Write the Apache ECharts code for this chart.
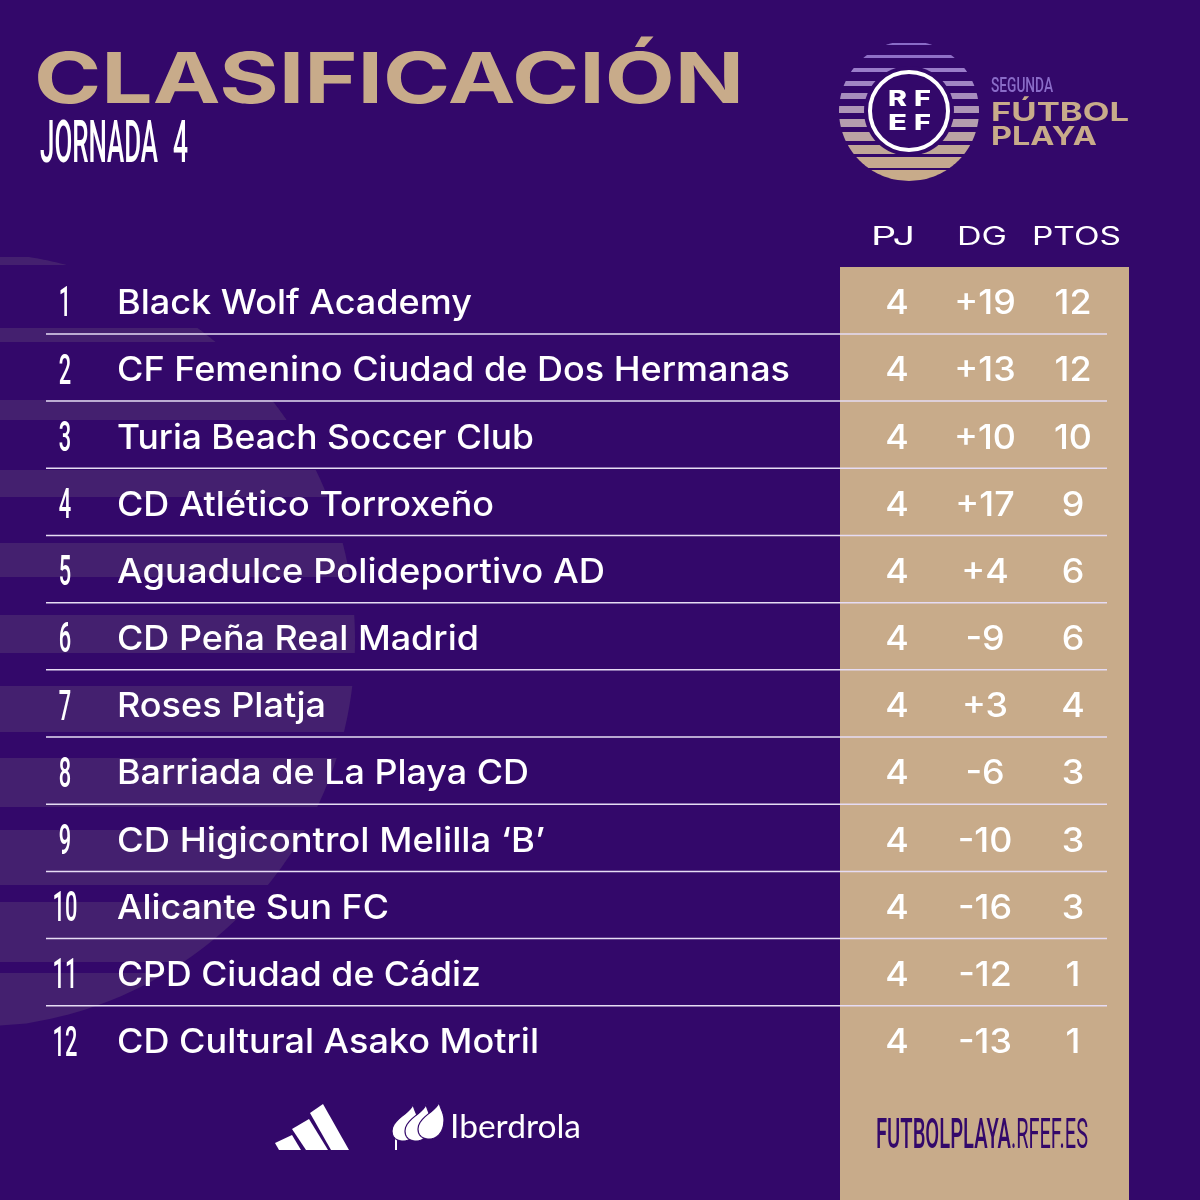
<!DOCTYPE html>
<html>
<head>
<meta charset="utf-8">
<script src="https://cdn.jsdelivr.net/npm/echarts@6/dist/echarts.min.js"></script>
<style>
  html, body { margin: 0; padding: 0; background: #33086a; }
  #chart { width: 1200px; height: 1200px; }
</style>
</head>
<body>
<div id="chart"></div>
<script>
// Table values
const RANKS = [1, 2, 3, 4, 5, 6, 7, 8, 9, 10, 11, 12];
const TEAMS = [
  'Black Wolf Academy',
  'CF Femenino Ciudad de Dos Hermanas',
  'Turia Beach Soccer Club',
  'CD Atlético Torroxeño',
  'Aguadulce Polideportivo AD',
  'CD Peña Real Madrid',
  'Roses Platja',
  'Barriada de La Playa CD',
  'CD Higicontrol Melilla ‘B’',
  'Alicante Sun FC',
  'CPD Ciudad de Cádiz',
  'CD Cultural Asako Motril'
];
const PJ = [4, 4, 4, 4, 4, 4, 4, 4, 4, 4, 4, 4];
const DG = [19, 13, 10, 17, 4, -9, 3, -6, -10, -16, -12, -13];
const PTOS = [12, 12, 10, 9, 6, 6, 4, 3, 3, 3, 1, 1];
const HEADERS = ['PJ', 'DG', 'PTOS'];

/**
 * Theme colors
 */
const THEME = {
  bg: '#33086a',
  band: '#44206f',
  tan: '#c8ab8a',
  text: '#ffffff',
  line: '#e6dcf4',
  lilac: '#8a6cc8'
};

const NAME_FONT = "500 34px 'Inter', sans-serif";
const RANK_FONT = "500 42px 'Roboto', sans-serif";

// Printed width of each team name, the brand font is wider than Inter
const NAME_WIDTHS = [355, 673, 417, 377, 488, 362, 209, 412, 428, 272, 364, 422];

const measureCtx = document.createElement('canvas').getContext('2d');

/**
 * Horizontal scale that makes a string span the wanted width
 */
function fitScale(text, font, width) {
  measureCtx.font = font;
  return width / measureCtx.measureText(text).width;
}

const valueScale = fitScale(TEAMS[1], NAME_FONT, 671);

/**
 * Graphic text, stretched to a given width
 */
function label(text, x, y, font, fill, width, align) {
  return {
    type: 'text',
    x,
    y,
    scaleX: width ? fitScale(text, font, width) : 1,
    style: { text, font, fill, textAlign: align || 'left', textVerticalAlign: 'middle', align: align || 'left', verticalAlign: 'middle' }
  };
}

/**
 * Polygon for the slice of a circle between two heights
 */
function band(cx, cy, r, y0, y1, fill) {
  const right = [];
  const left = [];
  for (let i = 0; i <= 12; i++) {
    const y = y0 + (y1 - y0) * i / 12;
    const dx = Math.sqrt(Math.max(0, r * r - (y - cy) * (y - cy)));
    right.push([cx + dx, y]);
    left.unshift([cx - dx, y]);
  }
  return { type: 'polygon', shape: { points: right.concat(left) }, style: { fill } };
}

// Big faded circle behind the team names
const BACK_BANDS = [[257, 265], [328, 342], [400, 420], [470, 497], [543, 577], [615, 653], [686, 732], [758, 807], [830, 885], [902, 962], [973, 1028]];
const backBands = BACK_BANDS.map(b => band(-33, 640, 388, b[0], b[1], THEME.band));

// RFEF badge stripes, top to bottom
const LOGO_BANDS = [[43, 45], [55, 58], [68, 72], [81, 86], [93, 99], [106, 113], [119, 127], [132, 141], [145, 154], [157, 168], [170, 181]];
const LOGO_COLORS = ['#8a6cc8', '#8f70c8', '#9a7dc9', '#a085c4', '#a78dbd', '#ae96b6', '#b49dae', '#bba3a3', '#c0a797', '#c5a98f', '#c8ab8a'];
const logoBands = LOGO_BANDS.map((b, i) => band(909, 111, 70, b[0], b[1], LOGO_COLORS[i]));

/**
 * Leaf outline from cubic segments: start point, then [c1, c2, end] triples
 */
function leaf(start, segments) {
  const points = [start];
  let p0 = start;
  for (const [c1, c2, p1] of segments) {
    for (let i = 1; i <= 10; i++) {
      const t = i / 10;
      const u = 1 - t;
      points.push([
        u * u * u * p0[0] + 3 * u * u * t * c1[0] + 3 * u * t * t * c2[0] + t * t * t * p1[0],
        u * u * u * p0[1] + 3 * u * u * t * c1[1] + 3 * u * t * t * c2[1] + t * t * t * p1[1]
      ]);
    }
    p0 = p1;
  }
  return { type: 'polygon', shape: { points }, style: { fill: THEME.text, stroke: THEME.bg, lineWidth: 1.2 } };
}

const leafAt = (dx, dy) => leaf([413 + dx, 1104 + dy], [
  [[411 + dx, 1113 + dy], [392 + dx, 1119 + dy], [392 + dx, 1131 + dy]],
  [[392 + dx, 1138 + dy], [397 + dx, 1141 + dy], [403 + dx, 1141 + dy]],
  [[413 + dx, 1141 + dy], [418 + dx, 1132 + dy], [418 + dx, 1122 + dy]],
  [[418 + dx, 1115 + dy], [414 + dx, 1110 + dy], [413 + dx, 1104 + dy]]
]);

const backgroundItems = [
  ...backBands,
  // tan column
  { type: 'rect', shape: { x: 840, y: 267, width: 289, height: 933 }, style: { fill: THEME.tan } },
  label('CLASIFICACIÓN', 34, 82, "700 70px 'Inter', sans-serif", THEME.tan, 710),
  label('JORNADA', 40, 147, "500 60px 'Roboto', sans-serif", THEME.text, 118),
  label('4', 173, 147, "500 60px 'Roboto', sans-serif", THEME.text, 15),
  // badge
  ...logoBands,
  { type: 'circle', shape: { cx: 909, cy: 111, r: 45 }, style: { fill: THEME.bg } },
  { type: 'circle', shape: { cx: 909, cy: 111, r: 39 }, style: { fill: THEME.bg, stroke: THEME.text, lineWidth: 4 } },
  label('R', 888, 100, "800 21px 'Inter', sans-serif", THEME.text, 19),
  label('F', 914, 100, "800 21px 'Inter', sans-serif", THEME.text, 17),
  label('E', 888, 124, "800 21px 'Inter', sans-serif", THEME.text, 19),
  label('F', 914, 124, "800 21px 'Inter', sans-serif", THEME.text, 17),
  label('SEGUNDA', 991, 87, "500 21px 'Roboto', sans-serif", THEME.lilac, 62),
  label('FÚTBOL', 991, 113, "700 25px 'Inter', sans-serif", THEME.tan, 138),
  label('PLAYA', 991, 137, "700 25px 'Inter', sans-serif", THEME.tan, 106),
  // column titles
  label(HEADERS[0], 871, 237, "400 25px 'Inter', sans-serif", THEME.text, 44),
  label(HEADERS[1], 957, 237, "400 25px 'Inter', sans-serif", THEME.text, 50),
  label(HEADERS[2], 1032, 237, "400 25px 'Inter', sans-serif", THEME.text, 89),
  // sponsors
  { type: 'polygon', shape: { points: [[275, 1143], [292, 1135], [301, 1150], [279, 1150]] }, style: { fill: THEME.text } },
  { type: 'polygon', shape: { points: [[292, 1129], [309, 1119], [328, 1150], [306, 1150]] }, style: { fill: THEME.text } },
  { type: 'polygon', shape: { points: [[310, 1113], [323, 1104], [349, 1150], [331, 1150]] }, style: { fill: THEME.text } },
  { type: 'rect', shape: { x: 395, y: 1138, width: 2, height: 12 }, style: { fill: THEME.text } },
  leafAt(0, 0),
  leafAt(13, 0),
  leafAt(26, -2),
  label('Iberdrola', 450, 1127, "400 33px 'Lato', sans-serif", THEME.text, 131),
  // site address
  label('FUTBOLPLAYA', 876, 1137, "500 42px 'Roboto', sans-serif", THEME.bg, 135),
  label('.RFEF.ES', 1011, 1137, "400 42px 'Roboto', sans-serif", THEME.bg, 77)
];

// Column anchors and row rules, in axis units
const COL_RANK = 65;
const COL_TEAM = 117;
const COL_PJ = 897;
const COL_DG = 985;
const COL_PTOS = 1073;
const RULE_LEFT = 46;
const RULE_RIGHT = 1107;
// Text sits a little under the row centre
const TEXT_DY = 3;
const RANK_DY = 5;

const formatDiff = v => (v > 0 ? '+' + v : String(v));

function cellText(api, text, xVal, rank, font, scaleX, align, dy) {
  const p = api.coord([xVal, rank]);
  return {
    type: 'text',
    x: p[0],
    y: p[1] + dy,
    scaleX,
    style: { text, font, fill: THEME.text, textAlign: align, textVerticalAlign: 'middle', align, verticalAlign: 'middle' }
  };
}

function renderRow(params, api) {
  const i = params.dataIndex;
  const rank = RANKS[i];
  const nameScale = fitScale(TEAMS[i], NAME_FONT, NAME_WIDTHS[i]);
  const children = [
    cellText(api, String(rank), COL_RANK, rank, RANK_FONT, 0.52, 'center', RANK_DY),
    cellText(api, TEAMS[i], COL_TEAM, rank, NAME_FONT, nameScale, 'left', TEXT_DY),
    cellText(api, String(PJ[i]), COL_PJ, rank, NAME_FONT, valueScale, 'center', TEXT_DY),
    cellText(api, formatDiff(DG[i]), COL_DG, rank, NAME_FONT, valueScale, 'center', TEXT_DY),
    cellText(api, String(PTOS[i]), COL_PTOS, rank, NAME_FONT, valueScale, 'center', TEXT_DY)
  ];
  if (i < RANKS.length - 1) {
    const a = api.coord([RULE_LEFT, rank + 0.49]);
    const b = api.coord([RULE_RIGHT, rank + 0.49]);
    children.push({
      type: 'line',
      shape: { x1: a[0], y1: a[1], x2: b[0], y2: b[1] },
      style: { stroke: THEME.line, lineWidth: 1.5 }
    });
  }
  return { type: 'group', children };
}

const chart = echarts.init(document.getElementById('chart'));
chart.setOption({
  animation: false,
  backgroundColor: THEME.bg,
  grid: { left: 0, right: 0, top: 267.4, height: 806.2 },
  xAxis: { type: 'value', min: 0, max: 1200, show: false },
  yAxis: { type: 'value', min: 0.5, max: 12.5, inverse: true, show: false },
  graphic: { elements: backgroundItems },
  series: [
    {
      type: 'custom',
      coordinateSystem: 'cartesian2d',
      data: RANKS.map(r => [r]),
      clip: false,
      renderItem: renderRow
    }
  ]
});
</script>
</body>
</html>
